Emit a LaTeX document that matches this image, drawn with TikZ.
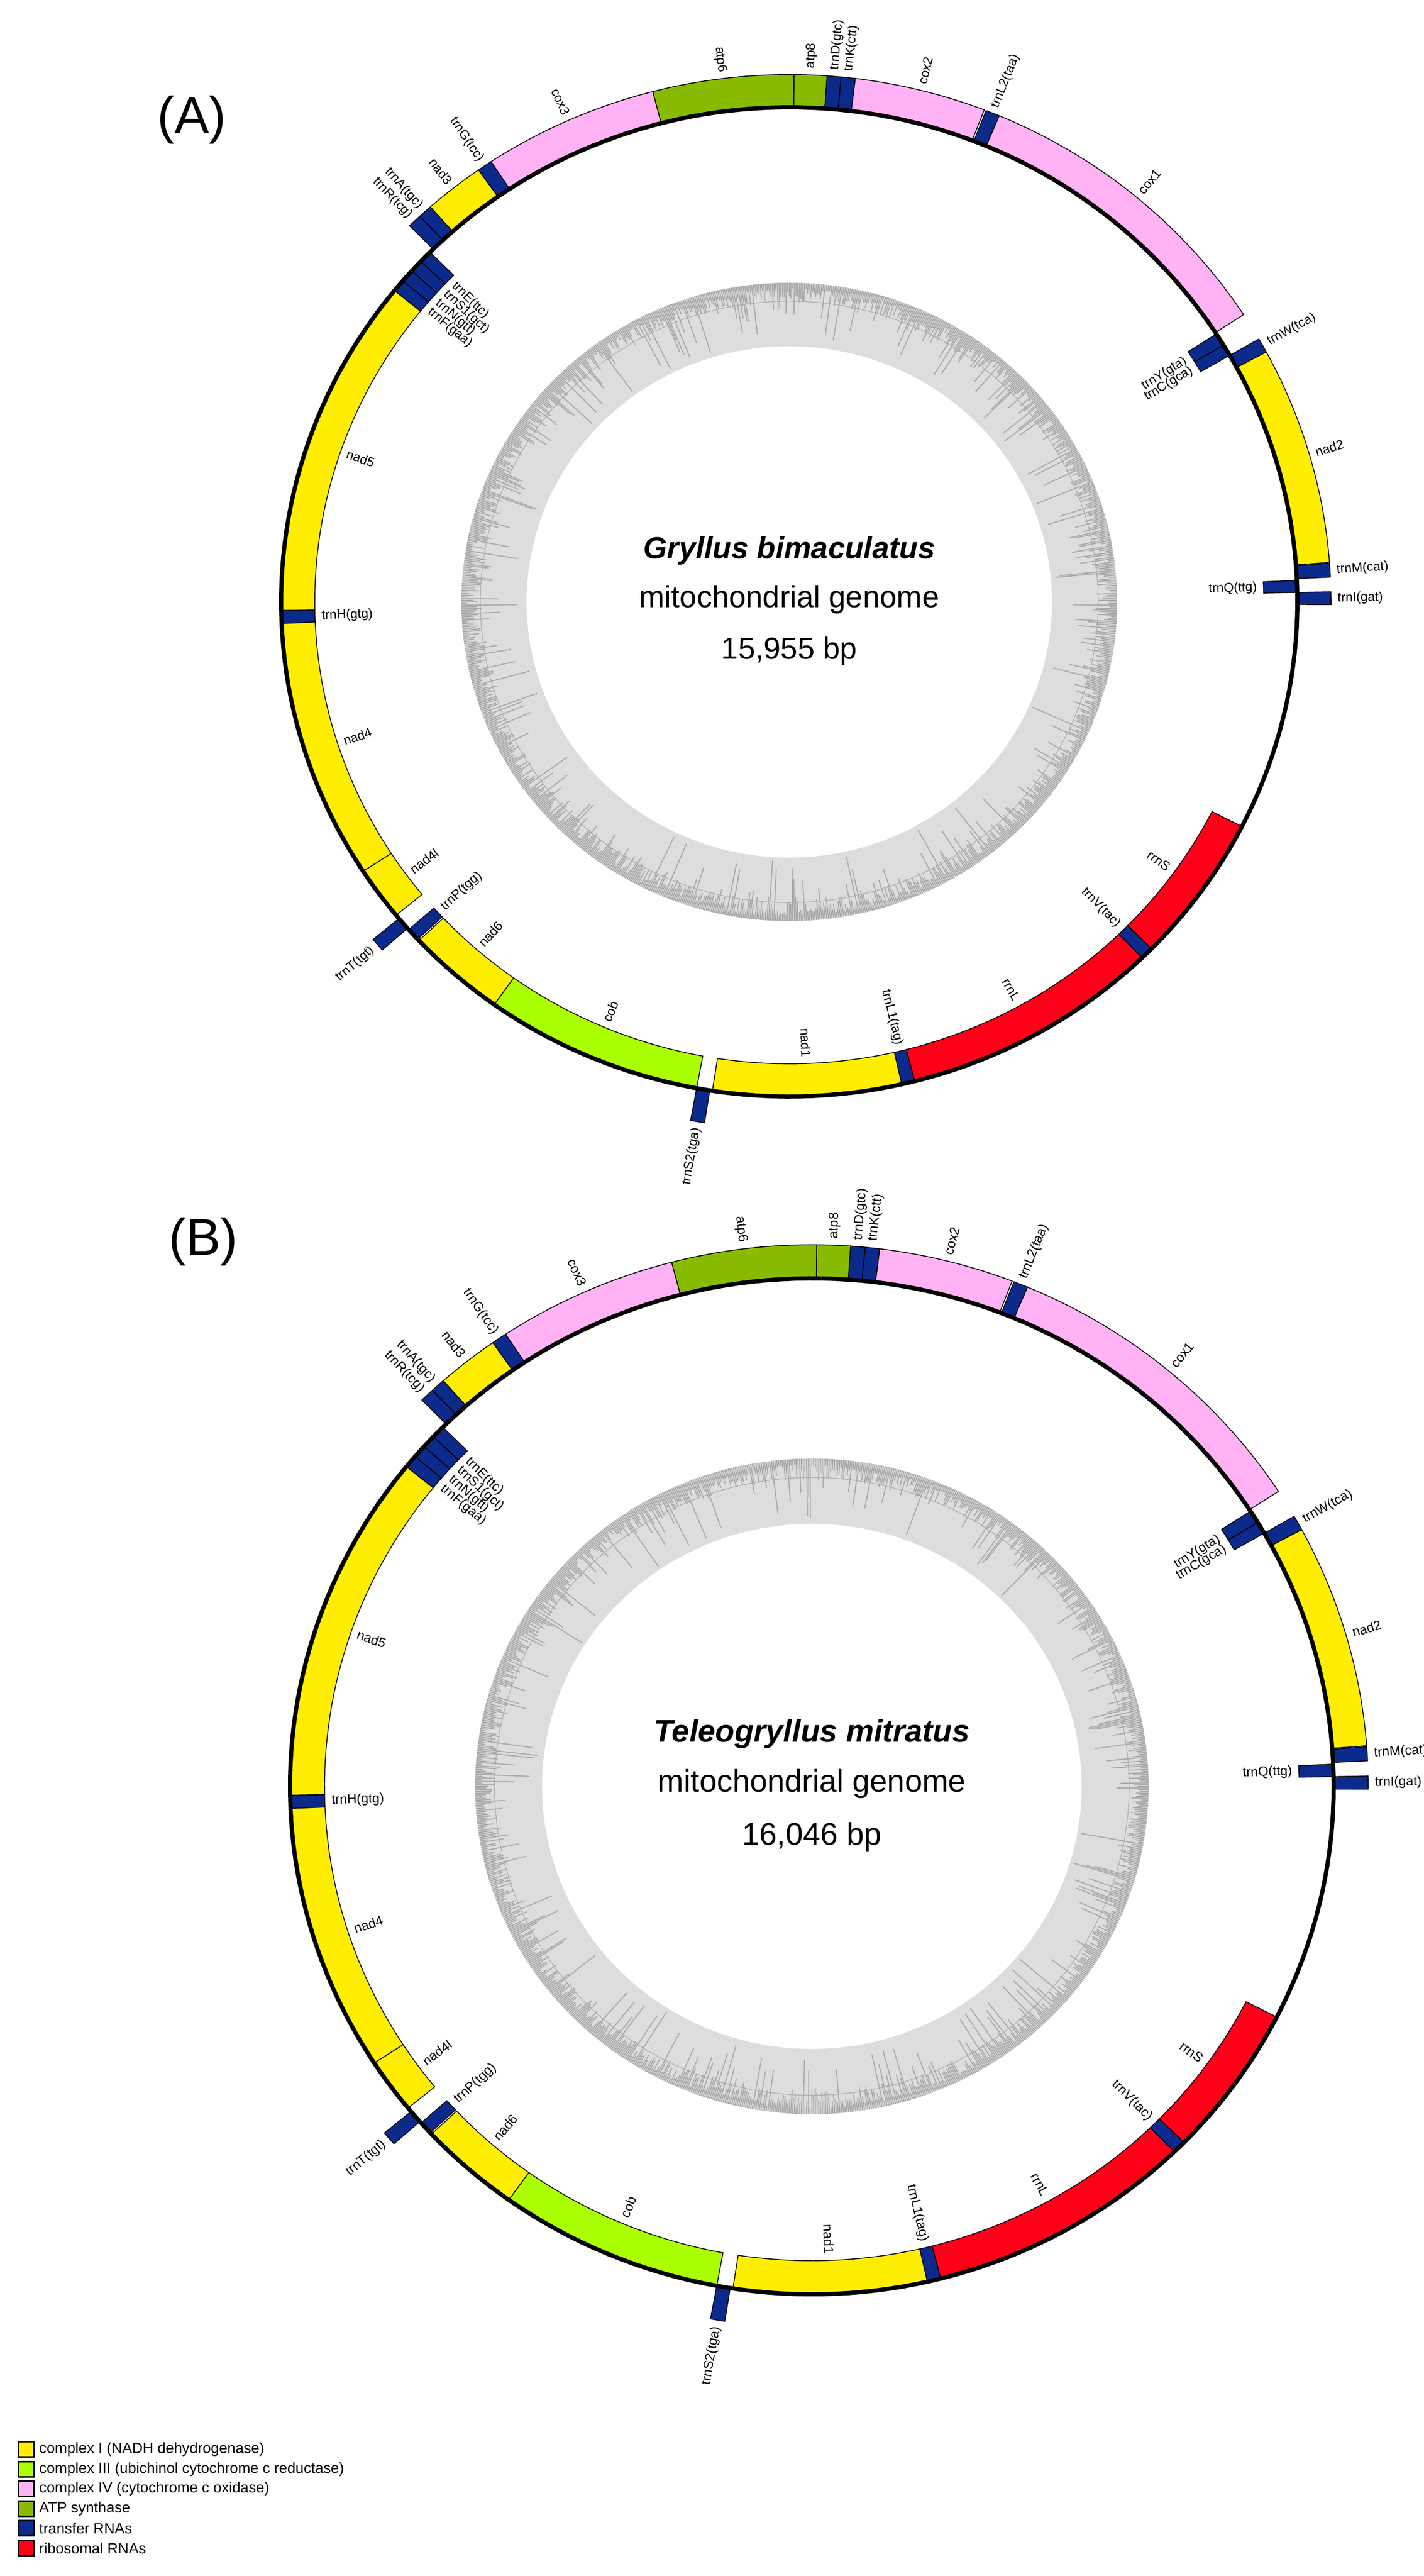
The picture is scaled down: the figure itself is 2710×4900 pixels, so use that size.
\documentclass[tikz,border=0pt]{standalone}
\usepackage{fontspec}
\setmainfont{Liberation Sans}
\definecolor{cI}{HTML}{FFEE00}
\definecolor{cIII}{HTML}{AAFF00}
\definecolor{cIV}{HTML}{FFB3F5}
\definecolor{catp}{HTML}{88BB00}
\definecolor{ctrna}{HTML}{0C2A8C}
\definecolor{crr}{HTML}{FF0018}
\definecolor{gcl}{HTML}{DDDDDD}
\definecolor{gcd}{HTML}{AAAAAA}
\newcommand\genebox[5]{%
  \pgfmathsetmacro\ra{#3>0 ? 967 : 903}%
  \pgfmathsetmacro\rb{\ra+64}%
  \filldraw[fill=#4, draw=black, line width=0.45pt] plot[domain=#1:#2, samples=30] (\x:\ra) -- plot[domain=#2:#1, samples=30] (\x:\rb) -- cycle;
  \pgfmathsetmacro\m{(#1+#2)/2}%
  \pgfmathsetmacro\rl{#3>0 ? 1043 : 891}%
  \pgfmathsetmacro\rot{cos(\m)>=0 ? \m : \m-180}%
  \pgfmathtruncatemacro\ww{((cos(\m)>=0)+(#3>0))==1 ? 0 : 1}%
  \ifnum\ww=1 \def\anc{west}\else\def\anc{east}\fi
  \node[lbl, anchor=\anc, rotate=\rot] at (\m:\rl) {#5};
}
\newcommand\genomemap{%
  \fill[gcl, even odd rule] plot[domain=0:360, samples=200] (\x:624) -- cycle (0:500) plot[domain=0:360, samples=200] (\x:500) -- cycle;
  \foreach \i in {0,...,1199}{%
    \pgfmathsetmacro\aa{\i*0.3}%
    \pgfmathsetmacro\ll{rnd<0.2 ? 40+80*rnd^2 : 10+30*rnd}%
    \draw[gcd, line width=0.02cm] (\aa:624) -- (\aa:624-\ll);
  }
  \draw[gcd, line width=0.012cm] plot[domain=0:360, samples=200] (\x:588) -- cycle;
  \foreach \a/\b/\s/\c/\t in {
    -0.3/1.1/1/ctrna/trnI(gat), 1.1/2.5/-1/ctrna/trnQ(ttg), 2.7/4.2/1/ctrna/trnM(cat),
    4.3/28.3/1/cI/nad2, 28.3/29.9/1/ctrna/trnW(tca), 29.9/31.3/-1/ctrna/trnC(gca),
    31.3/32.8/-1/ctrna/trnY(gta), 33.0/67.2/1/cIV/cox1, 67.2/68.7/1/ctrna/trnL2(taa),
    68.9/83.0/1/cIV/cox2, 83.0/84.5/1/ctrna/trnK(ctt), 84.5/86.0/1/ctrna/trnD(gtc),
    86.0/89.5/1/catp/atp8, 89.5/104.6/1/catp/atp6, 104.6/123.4/1/cIV/cox3,
    123.4/125.0/1/ctrna/trnG(tcc), 125.0/131.5/1/cI/nad3, 131.5/133.0/1/ctrna/trnA(tgc),
    133.0/134.5/1/ctrna/trnR(tcg), 135.0/136.5/-1/ctrna/trnE(ttc), 136.5/138.0/-1/ctrna/trnS1(gct),
    138.0/139.5/-1/ctrna/trnN(gtt), 139.5/141.0/-1/ctrna/trnF(gaa), 141.0/181.0/-1/cI/nad5,
    181.0/182.5/-1/ctrna/trnH(gtg), 182.5/213.0/-1/cI/nad4, 213.0/219.3/-1/cI/nad4l,
    219.8/221.3/1/ctrna/trnT(tgt), 221.5/223.0/-1/ctrna/trnP(tgg), 223.2/234.5/-1/cI/nad6,
    234.5/259.5/-1/cIII/cob, 259.5/261.0/1/ctrna/trnS2(tga), 261.3/282.8/-1/cI/nad1,
    282.8/284.3/-1/ctrna/trnL1(tag), 284.3/314.0/-1/crr/rrnL, 314.0/315.5/-1/ctrna/trnV(tac),
    315.5/333.0/-1/crr/rrnS}{\genebox{\a}{\b}{\s}{\c}{\t}}
  \draw[line width=0.08cm] plot[domain=0:360, samples=240] (\x:967) -- cycle;
}
\tikzset{
  lbl/.style={font=\fontsize{7}{8}\selectfont, inner sep=0pt},
  ttl/.style={font=\fontsize{16.5}{20}\selectfont},
  tag/.style={font=\fontsize{28}{32}\selectfont},
  legbox/.style={draw=black, line width=0.6pt, minimum width=0.29cm, minimum height=0.29cm, inner sep=0pt},
  legtxt/.style={font=\fontsize{8}{9}\selectfont, anchor=west, inner sep=0pt}
}
\begin{document}
\begin{tikzpicture}[x=0.01cm, y=0.01cm]
\useasboundingbox (0,0) rectangle (2710,4900);
\fill[white] (0,0) rectangle (2710,4900);
\node[tag] (tA) at (365,4672) {(A)};
\begin{scope}[shift={(1502,3755)}, yscale=0.973]
  \pgfmathsetseed{7}
  \genomemap
  \node[ttl, font=\fontsize{16.5}{20}\selectfont\bfseries\itshape] (nA1) at (0,100) {Gryllus bimaculatus};
  \node[ttl] (nA2) at (0,5) {mitochondrial genome};
  \node[ttl] (nA3) at (0,-96) {15,955 bp};
\end{scope}
\node[tag] (tB) at (387,2538) {(B)};
\begin{scope}[shift={(1545,1502)}, scale=1.027, yscale=0.973, every node/.append style={scale=1.027}]
  \pgfmathsetseed{11}
  \genomemap
  \node[ttl, font=\fontsize{16.5}{20}\selectfont\bfseries\itshape] (nB1) at (0,100) {Teleogryllus mitratus};
  \node[ttl] (nB2) at (0,5) {mitochondrial genome};
  \node[ttl] (nB3) at (0,-96) {16,046 bp};
\end{scope}
\node[legbox, fill=cI] (l1) at (50,241) {};
\node[legtxt] (t1) at (74,241) {complex I (NADH dehydrogenase)};
\node[legbox, fill=cIII] (l2) at (50,203) {};
\node[legtxt] (t2) at (74,203) {complex III (ubichinol cytochrome c reductase)};
\node[legbox, fill=cIV] (l3) at (50,166) {};
\node[legtxt] (t3) at (74,166) {complex IV (cytochrome c oxidase)};
\node[legbox, fill=catp] (l4) at (50,128) {};
\node[legtxt] (t4) at (74,128) {ATP synthase};
\node[legbox, fill=ctrna] (l5) at (50,91) {};
\node[legtxt] (t5) at (74,91) {transfer RNAs};
\node[legbox, fill=crr] (l6) at (50,53) {};
\node[legtxt] (t6) at (74,53) {ribosomal RNAs};
\end{tikzpicture}
\end{document}
